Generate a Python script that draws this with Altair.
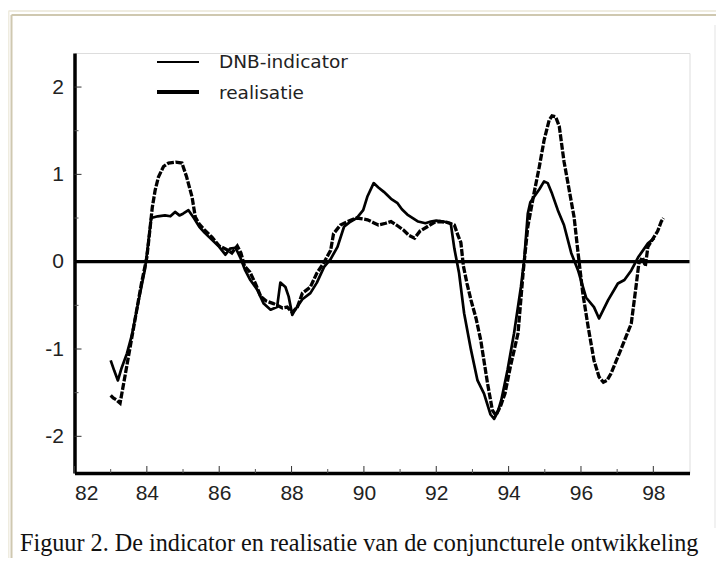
import altair as alt
import pandas as pd

# ---- data ----
IND_YEARS = [83.0, 83.1, 83.2, 83.3, 83.45, 83.58, 83.77, 83.95, 84.04, 84.12, 84.3, 84.5, 84.65,
             84.78, 84.9, 85.0, 85.15, 85.3, 85.45, 85.6, 85.8, 86.0, 86.17, 86.3, 86.45, 86.58,
             86.72, 86.86, 87.05, 87.23, 87.42, 87.6, 87.69, 87.83, 87.92, 88.02, 88.1, 88.3,
             88.52, 88.7, 88.9, 89.08, 89.27, 89.45, 89.6, 89.8, 89.98, 90.1, 90.27, 90.4, 90.55,
             90.75, 90.93, 91.05, 91.2, 91.35, 91.5, 91.7, 91.85, 92.0, 92.2, 92.4, 92.5, 92.63,
             92.77, 92.96, 93.14, 93.32, 93.5, 93.6, 93.7, 93.8, 93.97, 94.15, 94.34, 94.43, 94.53,
             94.6, 94.7, 94.85, 94.98, 95.08, 95.2, 95.36, 95.53, 95.73, 95.92, 96.14, 96.36, 96.5,
             96.62, 96.75, 97.02, 97.2, 97.39, 97.58, 97.85, 98.03]
IND_VALUES = [-1.13, -1.25, -1.36, -1.22, -1.05, -0.85, -0.45, -0.08, 0.22, 0.50, 0.52, 0.53, 0.52,
              0.57, 0.53, 0.55, 0.59, 0.50, 0.40, 0.33, 0.25, 0.17, 0.08, 0.15, 0.16, 0.05,
              -0.10, -0.21, -0.32, -0.48, -0.55, -0.52, -0.24, -0.29, -0.40, -0.61, -0.55, -0.43,
              -0.36, -0.24, -0.06, 0.03, 0.17, 0.40, 0.45, 0.50, 0.59, 0.75, 0.90, 0.85, 0.80,
              0.72, 0.67, 0.60, 0.54, 0.50, 0.46, 0.44, 0.46, 0.47, 0.46, 0.44, 0.15, -0.13,
              -0.59, -1.01, -1.36, -1.51, -1.75, -1.80, -1.72, -1.58, -1.24, -0.82, -0.29, 0.02, 0.55,
              0.68, 0.74, 0.83, 0.92, 0.90, 0.78, 0.59, 0.42, 0.10, -0.10, -0.41, -0.52, -0.65,
              -0.55, -0.44, -0.25, -0.21, -0.10, 0.05, 0.21, 0.27]

REAL_YEARS = [83.0, 83.07, 83.15, 83.26, 83.4, 83.55, 83.7, 83.85, 84.0, 84.08, 84.15, 84.23, 84.32,
              84.46, 84.6, 84.8, 84.97, 85.1, 85.25, 85.34, 85.45, 85.6, 85.8, 86.0, 86.2, 86.35,
              86.5, 86.6, 86.7, 86.85, 87.0, 87.15, 87.3, 87.5, 87.6, 87.75, 87.88, 88.02, 88.16,
              88.3, 88.52, 88.7, 88.88, 89.08, 89.16, 89.35, 89.6, 89.8, 90.1, 90.25, 90.4, 90.6,
              90.75, 90.9, 91.1, 91.25, 91.4, 91.55, 91.75, 91.95, 92.1, 92.3, 92.5, 92.6, 92.68,
              92.75, 92.85, 92.96, 93.1, 93.23, 93.42, 93.55, 93.65, 93.78, 93.9, 94.05, 94.26,
              94.4, 94.53, 94.7, 94.85, 94.98, 95.12, 95.2, 95.3, 95.4, 95.53, 95.64, 95.81, 95.92,
              96.05, 96.2, 96.36, 96.5, 96.62, 96.72, 96.83, 97.1, 97.39, 97.52, 97.6, 97.7, 97.78,
              97.85, 98.03, 98.12, 98.22, 98.28]
REAL_VALUES = [-1.53, -1.56, -1.58, -1.62, -1.30, -0.95, -0.60, -0.25, 0.05, 0.35, 0.62, 0.82, 0.97,
               1.09, 1.13, 1.14, 1.13, 0.97, 0.74, 0.51, 0.43, 0.36, 0.28, 0.18, 0.14, 0.10,
               0.18, 0.10, -0.05, -0.12, -0.25, -0.40, -0.45, -0.48, -0.50, -0.53, -0.52, -0.58, -0.52,
               -0.36, -0.29, -0.13, -0.02, 0.13, 0.32, 0.42, 0.47, 0.50, 0.48, 0.45, 0.42, 0.44,
               0.46, 0.42, 0.36, 0.30, 0.27, 0.35, 0.40, 0.45, 0.46, 0.45, 0.42, 0.30, 0.22,
               -0.05, -0.25, -0.44, -0.65, -0.90, -1.40, -1.70, -1.76, -1.65, -1.51, -1.20, -0.82,
               -0.13, 0.40, 0.78, 1.09, 1.39, 1.62, 1.67, 1.66, 1.55, 1.15, 0.90, 0.51, 0.10,
               -0.36, -0.75, -1.13, -1.32, -1.38, -1.36, -1.28, -1.01, -0.71, -0.29, -0.02, 0.05, -0.05,
               0.17, 0.29, 0.35, 0.46, 0.50]

X_MAJOR = [82, 84, 86, 88, 90, 92, 94, 96, 98]
X_MINOR = [83, 85, 87, 89, 91, 93, 95, 97]
Y_MAJOR = [-2, -1, 0, 1, 2]
Y_MINOR = [-1.5, -0.5, 0.5, 1.5]
LEGEND_LABELS = ["DNB-indicator", "realisatie"]
CAPTION = "Figuur 2. De indicator en realisatie van de conjuncturele ontwikkeling"

W, H = 615, 420

ind = pd.DataFrame({"year": IND_YEARS, "value": IND_VALUES})
real = pd.DataFrame({"year": REAL_YEARS, "value": REAL_VALUES})
one = pd.DataFrame({"k": [0]})

xs = alt.Scale(domain=[82, 99], nice=False, zero=False)
ys = alt.Scale(domain=[-2.42, 2.39], nice=False, zero=False)
xaxis = alt.Axis(values=X_MAJOR, labelExpr="toString(datum.value)", title="", grid=False,
                 ticks=False, domainColor="#000", domainWidth=3.5, labelFont="Liberation Sans",
                 labelFontSize=21, labelColor="#222", labelPadding=9)
yaxis = alt.Axis(values=Y_MAJOR, labelExpr="toString(datum.value)", title="", grid=False,
                 ticks=False, domainColor="#000", domainWidth=3.5, labelFont="Liberation Sans",
                 labelFontSize=21, labelColor="#222", labelPadding=11)


def X(f):
    return alt.X(f, type="quantitative", scale=xs, axis=xaxis)


def Y(f):
    return alt.Y(f, type="quantitative", scale=ys, axis=yaxis)


ind_line = alt.Chart(ind).mark_line(color="#000", strokeWidth=2.7, strokeJoin="round").encode(
    x=X("year"), y=Y("value"))
real_line = alt.Chart(real).mark_line(color="#000", strokeWidth=3.3, strokeDash=[7, 1.6]).encode(
    x=X("year"), y=Y("value"))

zero = alt.Chart(pd.DataFrame({"value": [0]})).mark_rule(color="#000", strokeWidth=3.2).encode(
    y=Y("value"), x=alt.value(0), x2=alt.value(W))

xt_major = alt.Chart(pd.DataFrame({"year": X_MAJOR})).mark_rule(color="#333", strokeWidth=1).encode(
    x=X("year"), y=alt.value(H), y2=alt.value(H - 7))
xt_minor = alt.Chart(pd.DataFrame({"year": X_MINOR})).mark_rule(color="#555", strokeWidth=1).encode(
    x=X("year"), y=alt.value(H), y2=alt.value(H - 4))
yt_major = alt.Chart(pd.DataFrame({"value": Y_MAJOR})).mark_rule(color="#333", strokeWidth=1).encode(
    y=Y("value"), x=alt.value(0), x2=alt.value(7))
yt_minor = alt.Chart(pd.DataFrame({"value": Y_MINOR})).mark_rule(color="#555", strokeWidth=1).encode(
    y=Y("value"), x=alt.value(0), x2=alt.value(4))

# legend
leg1_line = alt.Chart(one).mark_rule(color="#000", strokeWidth=2).encode(
    x=alt.value(82.5), x2=alt.value(124.5), y=alt.value(9))
leg2_line = alt.Chart(one).mark_rule(color="#000", strokeWidth=4).encode(
    x=alt.value(82.5), x2=alt.value(124.5), y=alt.value(39))
leg1_text = alt.Chart(pd.DataFrame({"label": [LEGEND_LABELS[0]]})).mark_text(
    align="left", baseline="alphabetic", font="DejaVu Sans", fontSize=18.5, color="#222").encode(
    x=alt.value(144.5), y=alt.value(15), text="label:N")
leg2_text = alt.Chart(pd.DataFrame({"label": [LEGEND_LABELS[1]]})).mark_text(
    align="left", baseline="alphabetic", font="DejaVu Sans", fontSize=18.5, color="#222").encode(
    x=alt.value(144.5), y=alt.value(46), text="label:N")

caption = alt.Chart(pd.DataFrame({"label": [CAPTION]})).mark_text(
    align="left", baseline="alphabetic", font="Liberation Serif", fontSize=24.2, color="#111").encode(
    x=alt.value(-54.5), y=alt.value(498), text="label:N")

# page frame decoration
frame_top_outer = alt.Chart(one).mark_rule(color="#efece0", strokeWidth=2).encode(
    x=alt.value(-66), x2=alt.value(660), y=alt.value(-42))
frame_top = alt.Chart(one).mark_rule(color="#cfc8b0", strokeWidth=2).encode(
    x=alt.value(-63), x2=alt.value(660), y=alt.value(-38))
frame_left_outer = alt.Chart(one).mark_rule(color="#efece0", strokeWidth=2).encode(
    x=alt.value(-66), y=alt.value(-42), y2=alt.value(520))
frame_left = alt.Chart(one).mark_rule(color="#cfc8b0", strokeWidth=2).encode(
    x=alt.value(-63), y=alt.value(-38), y2=alt.value(520))
frame_right = alt.Chart(one).mark_rule(color="#ececec", strokeWidth=1.5).encode(
    x=alt.value(640.5), y=alt.value(-28), y2=alt.value(475))

chart = alt.layer(
    frame_top_outer, frame_top, frame_left_outer, frame_left, frame_right,
    xt_major, xt_minor, yt_major, yt_minor,
    zero, real_line, ind_line,
    leg1_line, leg2_line, leg1_text, leg2_text, caption,
).properties(
    width=W, height=H,
    padding={"left": 66.5, "top": 45, "right": 26, "bottom": 85},
    autosize=alt.AutoSizeParams(type="none"),
).configure_view(stroke=None).configure(background="#ffffff")

chart.save("out.html", embed_options={"renderer": "svg", "actions": False})
